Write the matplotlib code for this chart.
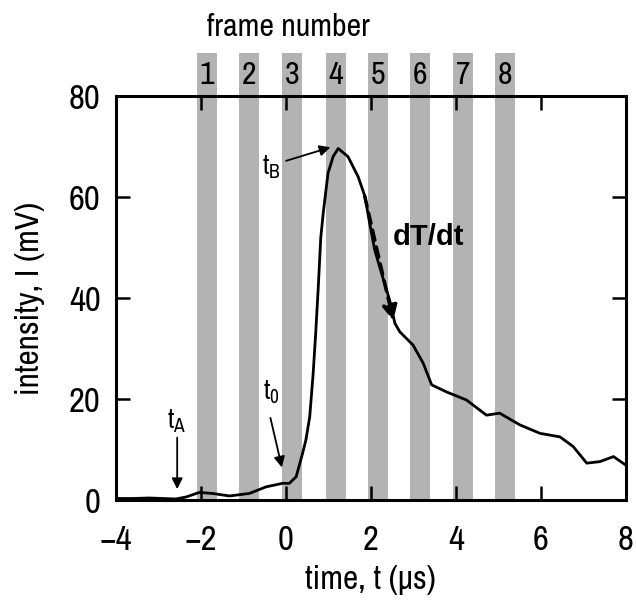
import matplotlib
matplotlib.use("Agg")
import matplotlib.pyplot as plt
import matplotlib.transforms as mtransforms
from matplotlib.patches import Rectangle

plt.rcParams['font.family'] = ['Liberation Sans Narrow', 'Archivo Narrow', 'Liberation Sans', 'DejaVu Sans']
plt.rcParams['mathtext.fontset'] = 'custom'
plt.rcParams['mathtext.rm'] = 'Archivo Narrow'

# intensity trace
t = [-4.0, -3.6, -3.22, -2.9, -2.59, -2.35, -2.04, -1.73, -1.33, -0.86, -0.47, -0.08,
     0.08, 0.24, 0.39, 0.47, 0.56, 0.64, 0.70, 0.76, 0.82, 0.88, 0.99, 1.11, 1.23,
     1.46, 1.70, 1.86, 1.97, 2.09, 2.25, 2.44, 2.565, 2.68, 2.99, 3.23, 3.43, 3.78,
     4.25, 4.72, 5.03, 5.50, 5.98, 6.45, 6.76, 7.08, 7.39, 7.71, 8.0]
intensity = [0.3, 0.3, 0.4, 0.3, 0.2, 0.6, 1.5, 1.3, 0.8, 1.3, 2.6, 3.3,
             3.3, 4.6, 9.2, 11.9, 16.5, 25.0, 33.0, 42.0, 52.0, 57.0, 64.7, 68.0, 69.6,
             68.0, 64.0, 60.1, 54.8, 49.5, 44.9, 39.6, 35.0, 33.3, 30.7, 27.1, 22.8, 21.4,
             19.8, 16.8, 17.2, 14.9, 13.2, 12.5, 10.6, 7.3, 7.6, 8.6, 6.9]

frame_start = [-2.09, -1.10, -0.09, 0.94, 1.93, 2.92, 3.93, 4.92]
frame_width = 0.47
frame_labels = ['1', '2', '3', '4', '5', '6', '7', '8']

fig = plt.figure(figsize=(6.36, 6.03), dpi=100)
ax = fig.add_axes([0.1824, 0.1708, 0.8016, 0.670])
ax.set_xlim(-4, 8)
ax.set_ylim(0, 80)

gray = '#b3b3b3'
trans = mtransforms.blended_transform_factory(ax.transData, ax.transAxes)
for x0, lab in zip(frame_start, frame_labels):
    ax.add_patch(Rectangle((x0, 0), frame_width, 1.106, transform=trans,
                           facecolor=gray, edgecolor='none', clip_on=False, zorder=0))
    ax.text(x0 + frame_width / 2, 1.052, lab, transform=trans, ha='center', va='center',
            fontsize=23, color='black')
ax.text(0.05, 1.17, 'frame number', transform=trans, ha='center', va='center', fontsize=23)

ax.plot(t, intensity, color='black', lw=2, zorder=3)

arr = dict(arrowstyle='-|>', color='black', lw=1.3, mutation_scale=16)
ax.annotate('', xy=(-2.56, 1.6), xytext=(-2.56, 12.9), arrowprops=arr)
ax.text(-2.57, 15.5, r'$\mathregular{t_A}$', ha='center', va='center', fontsize=20)
ax.annotate('', xy=(-0.08, 5.9), xytext=(-0.38, 16.8), arrowprops=arr)
ax.text(-0.34, 21.4, r'$\mathregular{t_0}$', ha='center', va='center', fontsize=20)
ax.annotate('', xy=(1.11, 70), xytext=(-0.06, 67), arrowprops=arr)
ax.text(-0.34, 65.9, r'$\mathregular{t_B}$', ha='center', va='center', fontsize=20)

ax.annotate('', xy=(2.54, 35), xytext=(1.84, 60.7),
            arrowprops=dict(arrowstyle='-|>', color='black', lw=2.5, ls=(0, (3, 2)),
                            mutation_scale=22))
ax.text(3.35, 52.1, 'dT/dt', ha='center', va='center', fontsize=21, fontweight='bold',
        family=['Liberation Sans', 'DejaVu Sans'])

ax.set_xticks([-4, -2, 0, 2, 4, 6, 8])
ax.set_yticks([0, 20, 40, 60, 80])
ax.tick_params(axis='both', direction='in', length=10, width=1.8, labelsize=25,
               top=True, right=True)
ax.tick_params(axis='x', pad=17)
ax.tick_params(axis='y', pad=11)
for s in ax.spines.values():
    s.set_linewidth(2.2)

ax.set_xlabel('time, t (μs)', fontsize=24, labelpad=7)
ax.set_ylabel('intensity, I (mV)', fontsize=24, labelpad=17)

fig.savefig('out.png', dpi=100)
